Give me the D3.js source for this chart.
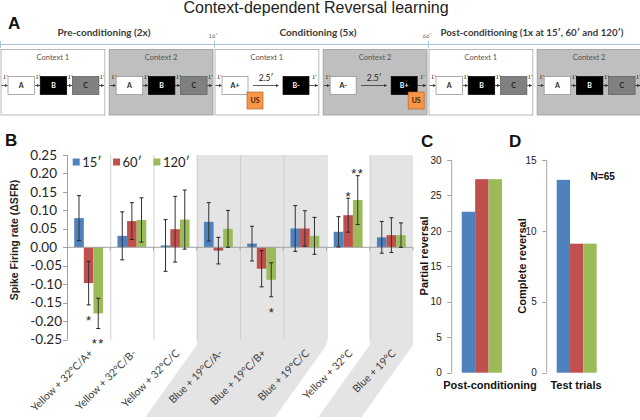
<!DOCTYPE html>
<html><head><meta charset="utf-8">
<script src="https://cdn.jsdelivr.net/npm/d3@7/dist/d3.min.js"></script>
<style>body{margin:0;background:#fff} svg{display:block}</style>
</head><body>
<svg id="c" width="640" height="420"></svg>
<script>
// ---------- data ----------
const chartTitle = "Context-dependent Reversal learning";
const phaseNames = ["Pre-conditioning (2x)", "Conditioning (5x)", "Post-conditioning (1x at 15′, 60′ and 120′)"];
const phaseTimes = ["16′", "66′"];
const contextNames = ["Context 1", "Context 2", "Context 1", "Context 2", "Context 1", "Context 2"];
const contextBlocks = [["A","B","C"], ["A","B","C"], ["A+","B-"], ["A-","B+"], ["A","B","C"], ["A","B","C"]];
const usBlocks = ["A+", "B+"];
const stepLabel = "1′";
const delayLabel = "2.5′";

const seriesNames = ["15′", "60′", "120′"];
const seriesColors = ["#4f81bd", "#c0504d", "#9bbb59"];
const categories = ["Yellow + 32°C/A+", "Yellow + 32°C/B-", "Yellow + 32°C/C", "Blue + 19°C/A-", "Blue + 19°C/B+", "Blue + 19°C/C", "Yellow + 32°C", "Blue + 19°C"];
const shadedCategories = [false, false, false, true, true, true, false, true];
const sfr15  = [0.079, 0.031, 0.005, 0.069, 0.010, 0.051, 0.042, 0.027];
const sfr60  = [-0.097, 0.071, 0.049, -0.009, -0.058, 0.051, 0.087, 0.033];
const sfr120 = [-0.179, 0.074, 0.075, 0.050, -0.088, 0.031, 0.128, 0.033];
const err15  = [0.061, 0.065, 0.070, 0.052, 0.047, 0.062, 0.041, 0.043];
const err60  = [0.059, 0.050, 0.089, 0.036, 0.049, 0.048, 0.046, 0.047];
const err120 = [0.041, 0.060, 0.080, 0.050, 0.046, 0.050, 0.066, 0.033];
const sigMarks = [{cat:0, s:1, t:"*"}, {cat:0, s:2, t:"**"}, {cat:4, s:2, t:"*"}, {cat:6, s:1, t:"*"}, {cat:6, s:2, t:"**"}];
const yTicksB = [-0.25,-0.20,-0.15,-0.10,-0.05,0,0.05,0.10,0.15,0.20,0.25];
const yTitleB = "Spike Firing rate (ΔSFR)";

const partialReversal = [22.7, 27.3, 27.3];
const completeReversal = [13.6, 9.1, 9.1];
const yTicksC = [0,5,10,15,20,25,30];
const yTicksD = [0,5,10,15];
const nLabel = "N=65";

// ---------- drawing ----------
const svg = d3.select("#c");
const ARIAL = "Liberation Sans, Arial, sans-serif";
const CAL = "Lato, 'Open Sans', sans-serif";

svg.append("text").attr("x", 316).attr("y", 13).attr("text-anchor","middle")
  .attr("font-family", ARIAL).attr("font-size", 16).attr("fill","#222").text(chartTitle);

const letters = [["A",8,28.5],["B",5,146],["C",421,147],["D",509,147]];
svg.selectAll("text.letter").data(letters).join("text").attr("class","letter")
  .attr("x", d=>d[1]).attr("y", d=>d[2]).attr("font-family", ARIAL).attr("font-weight","bold")
  .attr("font-size", 17).attr("fill","#111").text(d=>d[0]);

// ---- Panel A ----
const defs = svg.append("defs");
defs.append("marker").attr("id","ah").attr("viewBox","0 0 6 6").attr("refX",5.5).attr("refY",3)
  .attr("markerWidth",4).attr("markerHeight",4).attr("orient","auto")
  .append("path").attr("d","M0,0L6,3L0,6z").attr("fill","#333");

const A = svg.append("g");
const phaseBand = d3.scaleBand().domain(d3.range(phaseNames.length)).range([0, 642]);
const boxBand = d3.scaleBand().domain([0,1]).range([1, phaseBand.bandwidth()-1]).paddingInner(0.04);
const lineY = 44.5;
A.append("line").attr("x1",0).attr("x2",640).attr("y1",lineY).attr("y2",lineY).attr("stroke","#a9c3de").attr("stroke-width",1);
phaseNames.forEach((p,i)=>{
  const x0 = phaseBand(i);
  A.append("line").attr("x1",x0+0.5).attr("x2",x0+0.5).attr("y1",41).attr("y2",48).attr("stroke","#a9c3de");
  const widths = [93, 77, 183];
  A.append("text").attr("x", x0 + phaseBand.bandwidth()/2 - 3).attr("y", 35.5).attr("text-anchor","middle")
    .attr("font-family", CAL).attr("font-weight","bold").attr("font-size", 10).attr("fill","#3a3a3a")
    .attr("textLength", widths[i]).attr("lengthAdjust","spacingAndGlyphs").text(p);
});
phaseTimes.forEach((t,i)=>{
  A.append("text").attr("x", phaseBand(i+1)-1).attr("y", 38).attr("text-anchor","middle")
    .attr("font-family", CAL).attr("font-size", 6).attr("fill","#666").text(t);
});

contextNames.forEach((cname, k)=>{
  const ph = Math.floor(k/2);
  const L = phaseBand(ph) + boxBand(k%2);
  const W = boxBand.bandwidth();
  const grey = cname === "Context 2";
  A.append("rect").attr("x", L).attr("y", 49.5).attr("width", W).attr("height", 65.5)
    .attr("fill", grey ? "#bfbfbf" : "#fff").attr("stroke", grey ? "#9a9a9a" : "#a6a6a6").attr("stroke-width", 0.8);
  A.append("text").attr("x", L + W/2).attr("y", 59.5).attr("text-anchor","middle")
    .attr("font-family", CAL).attr("font-size", 7.5).attr("fill","#555").text(cname);
  const blocks = contextBlocks[k];
  const n = blocks.length;
  const bw = n === 3 ? 26.5 : 26;
  const bx = j => n === 3 ? L + 7 + j*32.2 : L + 7 + j*61;
  const by = 76.5, bh = 18, ay = 85.5;
  // arrows
  const arrows = [];
  arrows.push({x1: L + 0.5, x2: bx(0), t: stepLabel});
  for (let j=0;j<n-1;j++){
    if (n === 3) arrows.push({x1: bx(j)+bw, x2: bx(j+1), t: stepLabel});
    else arrows.push({x1: bx(j)+bw+5, x2: bx(j+1)-4, t: delayLabel, big: true});
  }
  arrows.push({x1: bx(n-1)+bw, x2: L + W - 0.5, t: stepLabel});
  arrows.forEach(a=>{
    A.append("line").attr("x1",a.x1).attr("x2",a.x2-0.5).attr("y1",ay).attr("y2",ay)
      .attr("stroke","#333").attr("stroke-width",0.8).attr("marker-end","url(#ah)");
    A.append("text").attr("x",(a.x1+a.x2)/2 + (a.big?0:0.5)).attr("y", a.big ? 81 : 78.5).attr("text-anchor","middle")
      .attr("font-family", a.big ? CAL : "Liberation Serif, serif").attr("font-size", a.big ? 8.5 : 7)
      .attr("fill","#222").text(a.t);
  });
  blocks.forEach((b,j)=>{
    const ch = b[0];
    const fill = ch === "A" ? "#fff" : ch === "B" ? "#000" : "#808080";
    const stroke = ch === "A" ? "#8a8a8a" : ch === "B" ? "#000" : "#5a5a5a";
    const tc = ch === "B" ? "#fff" : "#222";
    A.append("rect").attr("x", bx(j)).attr("y", by).attr("width", bw).attr("height", bh)
      .attr("fill", fill).attr("stroke", stroke).attr("stroke-width", 0.7);
    A.append("text").attr("x", bx(j)+bw/2).attr("y", by+bh/2+2.5).attr("text-anchor","middle")
      .attr("font-family", CAL).attr("font-weight","bold").attr("font-size", 7).attr("fill", tc).text(b);
    if (usBlocks.includes(b)) {
      const ux = bx(j) + bw - 1 - 8*j;
      A.append("rect").attr("x", ux).attr("y", 92).attr("width", 16).attr("height", 17)
        .attr("fill","#f79646").attr("stroke","#b5682e").attr("stroke-width",0.7);
      A.append("text").attr("x", ux+8).attr("y", 103).attr("text-anchor","middle")
        .attr("font-family", CAL).attr("font-weight","bold").attr("font-size", 7).attr("fill","#3b2314").text("US");
    }
  });
});

// ---- Panel B ----
const B = svg.append("g");
const yB = d3.scaleLinear().domain([-0.25, 0.25]).range([339.6, 155]);
const xB = d3.scaleBand().domain(categories).range([67, 413]);
const xSub = d3.scaleBand().domain([0,1,2]).range([0, xB.bandwidth()]).paddingOuter(0.75);
const bwB = xB.bandwidth();

// shading
const runs = [];
shadedCategories.forEach((s,i)=>{
  if (!s) return;
  if (runs.length && runs[runs.length-1].end === i-1) runs[runs.length-1].end = i;
  else runs.push({start:i, end:i});
});
const yBot = 345, yImg = 417, dd = (yImg - yBot)/1.4;
runs.forEach(r=>{
  const x0 = xB(categories[r.start]), x1 = xB(categories[r.end]) + bwB;
  B.append("path").attr("d", `M${x0},${yB(0.25)}L${x1},${yB(0.25)}L${x1},${yBot}L${x1-dd},${yImg}L${x0-dd},${yImg}L${x0},${yBot}Z`)
    .attr("fill","#e4e4e4");
});
// separators
for (let i=1;i<categories.length;i++){
  const x = xB(categories[i]) + 0.5;
  B.append("line").attr("x1",x).attr("x2",x).attr("y1",yB(0.25)).attr("y2",yB(-0.25)).attr("stroke","#cfcfcf").attr("stroke-width",1);
}
// y axis
B.append("line").attr("x1",67.5).attr("x2",67.5).attr("y1",yB(0.25)).attr("y2",yB(-0.25)).attr("stroke","#a0a0a0");
yTicksB.forEach(v=>{
  const y = Math.round(yB(v)) + 0.5;
  B.append("line").attr("x1",63).attr("x2",67.5).attr("y1",y).attr("y2",y).attr("stroke","#a0a0a0");
  B.append("text").attr("x", v < 0 ? 62 : 57).attr("y", yB(v)+4.6).attr("text-anchor","end")
    .attr("font-family", CAL).attr("font-size", 13.5).attr("fill","#262626").text(v.toFixed(2).replace("-", "-"));
});
B.append("text").attr("transform","translate(18,240) rotate(-90)").attr("text-anchor","middle")
  .attr("font-family", ARIAL).attr("font-weight","bold").attr("font-size", 10.5).attr("fill","#222").text(yTitleB);

const seriesVals = [sfr15, sfr60, sfr120];
const seriesErr = [err15, err60, err120];
// bars
seriesVals.forEach((vals, s)=>{
  B.selectAll(null).data(vals).join("rect")
    .attr("x", (v,i)=> xB(categories[i]) + xSub(s))
    .attr("width", xSub.bandwidth())
    .attr("y", v => yB(Math.max(0,v)))
    .attr("height", v => Math.abs(yB(v) - yB(0)))
    .attr("fill", seriesColors[s]);
});
// zero line
B.append("line").attr("x1",67).attr("x2",413).attr("y1",yB(0)).attr("y2",yB(0)).attr("stroke","#a0a0a0");
for (let i=1;i<=categories.length;i++){
  const x = 67 + i*bwB;
  B.append("line").attr("x1",x).attr("x2",x).attr("y1",yB(0)).attr("y2",yB(0)+3).attr("stroke","#a0a0a0");
}
// error bars
seriesVals.forEach((vals, s)=>{
  vals.forEach((v,i)=>{
    const cx = xB(categories[i]) + xSub(s) + xSub.bandwidth()/2;
    const e = seriesErr[s][i];
    const y1 = yB(v+e), y2 = yB(v-e);
    B.append("line").attr("x1",cx).attr("x2",cx).attr("y1",y1).attr("y2",y2).attr("stroke","#333").attr("stroke-width",1);
    [y1,y2].forEach(y=>B.append("line").attr("x1",cx-2).attr("x2",cx+2).attr("y1",y).attr("y2",y).attr("stroke","#222").attr("stroke-width",1));
  });
});
// significance
sigMarks.forEach(m=>{
  const v = seriesVals[m.s][m.cat], e = seriesErr[m.s][m.cat];
  const cx = xB(categories[m.cat]) + xSub(m.s) + xSub.bandwidth()/2;
  const cy = v < 0 ? yB(v-e) + 12.5 : yB(v+e) - 5;
  B.append("text").attr("x", cx).attr("y", cy + 7.4).attr("text-anchor","middle")
    .attr("font-family", ARIAL).attr("font-size", 13).attr("letter-spacing", m.t.length>1 ? 1.5 : 0)
    .attr("fill","#222").text(m.t);
});
// category labels
categories.forEach((c,i)=>{
  const cx = xB(c) + bwB/2;
  B.append("text").attr("transform", `translate(${cx+5},${354}) rotate(-45)`).attr("text-anchor","end")
    .attr("font-family", CAL).attr("font-size", 10.5).attr("fill","#404040").text(c);
});
// legend
let lx = 72.7;
seriesNames.forEach((n,s)=>{
  B.append("rect").attr("x", lx).attr("y", 158.5).attr("width", 7).attr("height", 7).attr("fill", seriesColors[s]);
  const t = B.append("text").attr("x", lx + 9.5).attr("y", 166.5).attr("font-family", CAL).attr("font-size", 13)
    .attr("fill","#262626").text(n);
  lx += 9.5 + t.node().getComputedTextLength() + 11.5;
});

// ---- Panels C and D ----
function smallPanel(vals, ticks, ax, xr, yMax, yTitle, titleX, titleY, xTitle, xTitleX){
  const g = svg.append("g");
  const y = d3.scaleLinear().domain([0, yMax]).range([372.7, 160]);
  const x = d3.scaleBand().domain([0,1,2]).range(xr).paddingOuter(0.75);
  g.append("line").attr("x1",ax).attr("x2",ax).attr("y1",y(yMax)).attr("y2",y(0)).attr("stroke","#a6a6a6");
  ticks.forEach(t=>{
    const yy = Math.round(y(t))+0.5;
    g.append("line").attr("x1",ax-4.5).attr("x2",ax).attr("y1",yy).attr("y2",yy).attr("stroke","#a6a6a6");
    g.append("text").attr("x", ax-10).attr("y", y(t)+3.6).attr("text-anchor","end")
      .attr("font-family", ARIAL).attr("font-size", 10).attr("fill","#222").text(t);
  });
  g.selectAll(null).data(vals).join("rect")
    .attr("x",(d,i)=>x(i)).attr("width", x.bandwidth())
    .attr("y", d=>y(d)).attr("height", d=>y(0)-y(d)).attr("fill",(d,i)=>seriesColors[i]);
  g.append("text").attr("transform",`translate(${titleX},${titleY}) rotate(-90)`).attr("text-anchor","middle")
    .attr("dy","0.35em").attr("font-family", ARIAL).attr("font-weight","bold").attr("font-size", 11).attr("fill","#111").text(yTitle);
  g.append("text").attr("x", xTitleX).attr("y", 389).attr("text-anchor","middle")
    .attr("font-family", ARIAL).attr("font-weight","bold").attr("font-size", 11).attr("fill","#111").text(xTitle);
  return g;
}
smallPanel(partialReversal, yTicksC, 451.7, [451.7, 512], 30, "Partial reversal", 424, 256, "Post-conditioning", 490);
const gD = smallPanel(completeReversal, yTicksD, 546.7, [546.7, 606.7], 15, "Complete reversal", 522, 266, "Test trials", 576);
gD.append("text").attr("x", 602.7).attr("y", 179.5).attr("text-anchor","middle")
  .attr("font-family", ARIAL).attr("font-weight","bold").attr("font-size", 10).attr("fill","#111").text(nLabel);
</script>
</body></html>
